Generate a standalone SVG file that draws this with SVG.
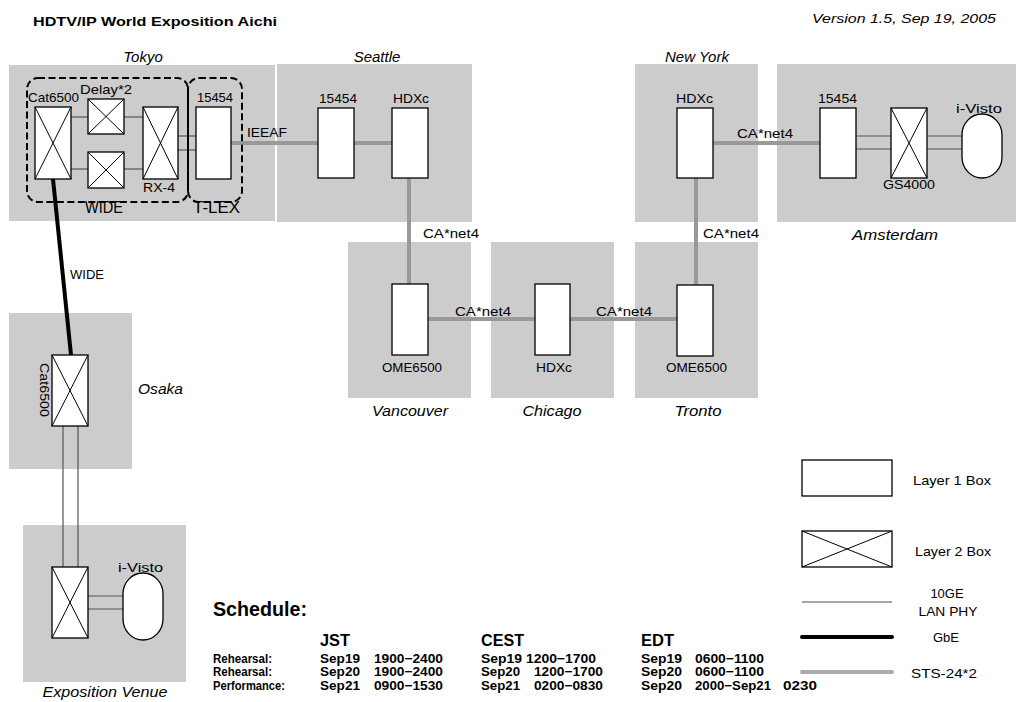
<svg xmlns="http://www.w3.org/2000/svg" width="1024" height="702" viewBox="0 0 1024 702">
<style>
.region{fill:#cccccc}
.b{fill:#fff;stroke:#000;stroke-width:1.3}
.xl{stroke:#000;stroke-width:1}
.dash{fill:none;stroke:#000;stroke-width:2;stroke-dasharray:7 3.5}
.sts{stroke:#999;stroke-width:4;fill:none}
.ge{stroke:#555;stroke-width:1.2;fill:none}
.gbe{stroke:#000;stroke-width:4;fill:none}
text{font-family:"Liberation Sans",Arial,sans-serif;fill:#000}
.lbl{font-size:13px}
.city{font-size:15px;font-style:italic}
.sch{font-size:13px;font-weight:bold}
.hdr{font-size:17px;font-weight:bold}
</style>
<rect width="1024" height="702" fill="#fff"/>
<text x="33" y="26" font-size="13.5" font-weight="bold" textLength="244" lengthAdjust="spacingAndGlyphs">HDTV/IP World Exposition Aichi</text>
<text x="812" y="23" font-size="13" font-style="italic" textLength="184" lengthAdjust="spacingAndGlyphs">Version 1.5, Sep 19, 2005</text>

<g id="regions">
<rect class="region" x="9" y="65" width="266" height="156"/>
<rect class="region" x="277" y="64" width="195" height="158"/>
<rect class="region" x="635" y="64" width="123" height="158"/>
<rect class="region" x="777" y="64" width="239" height="158"/>
<rect class="region" x="348" y="242" width="123" height="156"/>
<rect class="region" x="491" y="242" width="123" height="156"/>
<rect class="region" x="635" y="242" width="123" height="156"/>
<rect class="region" x="9" y="313" width="123" height="156"/>
<rect class="region" x="23" y="525" width="163" height="157"/>
<text class="city" x="143" y="62" text-anchor="middle">Tokyo</text>
<text class="city" x="377" y="62" text-anchor="middle">Seattle</text>
<text class="city" x="697" y="62" text-anchor="middle">New York</text>
<text class="city" x="895" y="240" text-anchor="middle" textLength="86" lengthAdjust="spacingAndGlyphs">Amsterdam</text>
<text class="city" x="410" y="416" text-anchor="middle" textLength="76" lengthAdjust="spacingAndGlyphs">Vancouver</text>
<text class="city" x="552" y="416" text-anchor="middle" textLength="59" lengthAdjust="spacingAndGlyphs">Chicago</text>
<text class="city" x="698" y="416" text-anchor="middle" textLength="47" lengthAdjust="spacingAndGlyphs">Tronto</text>
<text class="city" x="138" y="394" textLength="45" lengthAdjust="spacingAndGlyphs">Osaka</text>
<text class="city" x="105" y="697" text-anchor="middle" textLength="125" lengthAdjust="spacingAndGlyphs">Exposition Venue</text>
</g>

<g id="connectors">
<line class="ge" x1="71" y1="117" x2="88" y2="117"/>
<line class="ge" x1="71" y1="169" x2="88" y2="169"/>
<line class="ge" x1="124" y1="117" x2="143" y2="117"/>
<line class="ge" x1="124" y1="169" x2="143" y2="169"/>
<line class="ge" x1="178" y1="136" x2="196" y2="136"/>
<line class="ge" x1="178" y1="150" x2="196" y2="150"/>
<line class="sts" x1="231" y1="143" x2="318" y2="143"/>
<line class="sts" x1="354" y1="143" x2="392" y2="143"/>
<line class="sts" x1="409" y1="178" x2="409" y2="284"/>
<line class="sts" x1="428" y1="319" x2="535" y2="319"/>
<line class="sts" x1="570" y1="319" x2="677" y2="319"/>
<line class="sts" x1="696" y1="178" x2="696" y2="285"/>
<line class="sts" x1="713" y1="143" x2="820" y2="143"/>
<line class="ge" x1="856" y1="136" x2="891" y2="136"/>
<line class="ge" x1="856" y1="149" x2="891" y2="149"/>
<line class="ge" x1="927" y1="136" x2="962" y2="136"/>
<line class="ge" x1="927" y1="149" x2="962" y2="149"/>
<line class="gbe" x1="53" y1="179" x2="71" y2="355"/>
<line class="ge" x1="63" y1="426" x2="63" y2="567"/>
<line class="ge" x1="78" y1="426" x2="78" y2="567"/>
<line class="ge" x1="88" y1="596" x2="123" y2="596"/>
<line class="ge" x1="88" y1="609" x2="123" y2="609"/>
<text class="lbl" x="247" y="137" textLength="40" lengthAdjust="spacingAndGlyphs">IEEAF</text>
<text class="lbl" x="423" y="238" textLength="56" lengthAdjust="spacingAndGlyphs">CA*net4</text>
<text class="lbl" x="703" y="238" textLength="56" lengthAdjust="spacingAndGlyphs">CA*net4</text>
<text class="lbl" x="737" y="138" textLength="56" lengthAdjust="spacingAndGlyphs">CA*net4</text>
<text class="lbl" x="455" y="316" textLength="56" lengthAdjust="spacingAndGlyphs">CA*net4</text>
<text class="lbl" x="596" y="316" textLength="56" lengthAdjust="spacingAndGlyphs">CA*net4</text>
<text class="lbl" x="70" y="279" textLength="34" lengthAdjust="spacingAndGlyphs">WIDE</text>
</g>

<g id="tokyo-wide">
<rect class="dash" x="27" y="78" width="161" height="124" rx="11"/>
<text x="85" y="213" font-size="16" textLength="38" lengthAdjust="spacingAndGlyphs">WIDE</text>
</g>
<g id="tokyo-tlex">
<rect class="dash" x="188" y="78" width="54" height="124" rx="11"/>
<text x="193" y="213" font-size="16" textLength="47" lengthAdjust="spacingAndGlyphs">T-LEX</text>
</g>
<g id="tokyo-cat6500">
<rect class="b" x="35" y="107" width="36" height="72"/>
<path class="xl" d="M35 107L71 179M71 107L35 179"/>
<text class="lbl" x="28" y="102" textLength="51" lengthAdjust="spacingAndGlyphs">Cat6500</text>
</g>
<g id="tokyo-delay1">
<rect class="b" x="88" y="99" width="36" height="35"/>
<path class="xl" d="M88 99L124 134M124 99L88 134"/>
<text class="lbl" x="80" y="94" textLength="52" lengthAdjust="spacingAndGlyphs">Delay*2</text>
</g>
<g id="tokyo-delay2">
<rect class="b" x="88" y="152" width="36" height="36"/>
<path class="xl" d="M88 152L124 188M124 152L88 188"/>
</g>
<g id="tokyo-rx4">
<rect class="b" x="143" y="107" width="35" height="72"/>
<path class="xl" d="M143 107L178 179M178 107L143 179"/>
<text class="lbl" x="143" y="192" textLength="32" lengthAdjust="spacingAndGlyphs">RX-4</text>
</g>
<g id="tokyo-15454">
<rect class="b" x="196" y="107" width="35" height="72"/>
<text class="lbl" x="197" y="102" textLength="36" lengthAdjust="spacingAndGlyphs">15454</text>
</g>
<g id="seattle-15454">
<rect class="b" x="318" y="108" width="36" height="70"/>
<text class="lbl" x="319" y="103" textLength="38" lengthAdjust="spacingAndGlyphs">15454</text>
</g>
<g id="seattle-hdxc">
<rect class="b" x="392" y="108" width="36" height="70"/>
<text class="lbl" x="393" y="103" textLength="36" lengthAdjust="spacingAndGlyphs">HDXc</text>
</g>
<g id="newyork-hdxc">
<rect class="b" x="677" y="108" width="36" height="70"/>
<text class="lbl" x="676" y="103" textLength="37" lengthAdjust="spacingAndGlyphs">HDXc</text>
</g>
<g id="amsterdam-15454">
<rect class="b" x="820" y="108" width="36" height="70"/>
<text class="lbl" x="818" y="103" textLength="39" lengthAdjust="spacingAndGlyphs">15454</text>
</g>
<g id="amsterdam-gs4000">
<rect class="b" x="891" y="108" width="36" height="70"/>
<path class="xl" d="M891 108L927 178M927 108L891 178"/>
<text class="lbl" x="883" y="189" textLength="52" lengthAdjust="spacingAndGlyphs">GS4000</text>
</g>
<g id="amsterdam-ivisto">
<rect class="b" x="962" y="114" width="40" height="64" rx="20" ry="21"/>
<text class="lbl" x="956" y="113" textLength="46" lengthAdjust="spacingAndGlyphs">i-Visto</text>
</g>
<g id="vancouver-ome6500">
<rect class="b" x="392" y="284" width="36" height="71"/>
<text class="lbl" x="382" y="372" textLength="60" lengthAdjust="spacingAndGlyphs">OME6500</text>
</g>
<g id="chicago-hdxc">
<rect class="b" x="535" y="284" width="35" height="71"/>
<text class="lbl" x="536" y="372" textLength="36" lengthAdjust="spacingAndGlyphs">HDXc</text>
</g>
<g id="tronto-ome6500">
<rect class="b" x="677" y="285" width="36" height="71"/>
<text class="lbl" x="666" y="372" textLength="61" lengthAdjust="spacingAndGlyphs">OME6500</text>
</g>
<g id="osaka-cat6500">
<rect class="b" x="52" y="355" width="36" height="71"/>
<path class="xl" d="M52 355L88 426M88 355L52 426"/>
<text class="lbl" transform="translate(40,363) rotate(90)" textLength="54" lengthAdjust="spacingAndGlyphs">Cat6500</text>
</g>
<g id="expo-switch">
<rect class="b" x="52" y="567" width="36" height="71"/>
<path class="xl" d="M52 567L88 638M88 567L52 638"/>
</g>
<g id="expo-ivisto">
<rect class="b" x="123" y="573" width="40" height="67" rx="20" ry="21"/>
<text class="lbl" x="118" y="572" textLength="45" lengthAdjust="spacingAndGlyphs">i-Visto</text>
</g>

<g id="legend">
<rect class="b" x="802" y="460" width="90" height="36"/>
<text class="lbl" x="913" y="485" textLength="78" lengthAdjust="spacingAndGlyphs">Layer 1 Box</text>
<rect class="b" x="802" y="531" width="90" height="36"/>
<path class="xl" d="M802 531L892 567M892 531L802 567"/>
<text class="lbl" x="915" y="556" textLength="76" lengthAdjust="spacingAndGlyphs">Layer 2 Box</text>
<line x1="802" y1="602" x2="892" y2="602" stroke="#888" stroke-width="1.5"/>
<text class="lbl" x="947" y="598" text-anchor="middle">10GE</text>
<text class="lbl" x="948" y="616" text-anchor="middle" textLength="59" lengthAdjust="spacingAndGlyphs">LAN PHY</text>
<line x1="802" y1="637" x2="892" y2="637" stroke="#000" stroke-width="4" stroke-linecap="round"/>
<text class="lbl" x="946" y="642" text-anchor="middle">GbE</text>
<line x1="802" y1="672" x2="892" y2="672" stroke="#aaa" stroke-width="4" stroke-linecap="round"/>
<text class="lbl" x="911" y="678" textLength="66" lengthAdjust="spacingAndGlyphs">STS-24*2</text>
</g>

<g id="schedule">
<text x="213" y="616" font-size="20" font-weight="bold" textLength="94" lengthAdjust="spacingAndGlyphs">Schedule:</text>
<text class="hdr" x="320" y="646" textLength="30" lengthAdjust="spacingAndGlyphs">JST</text>
<text class="hdr" x="481" y="646" textLength="43" lengthAdjust="spacingAndGlyphs">CEST</text>
<text class="hdr" x="641" y="646" textLength="33" lengthAdjust="spacingAndGlyphs">EDT</text>
<text class="sch" x="213" y="663" textLength="59" lengthAdjust="spacingAndGlyphs">Rehearsal:</text>
<text class="sch" x="213" y="676" textLength="59" lengthAdjust="spacingAndGlyphs">Rehearsal:</text>
<text class="sch" x="213" y="690" textLength="72" lengthAdjust="spacingAndGlyphs">Performance:</text>
<text class="sch" x="320" y="663" textLength="40" lengthAdjust="spacingAndGlyphs">Sep19</text>
<text class="sch" x="320" y="676" textLength="40" lengthAdjust="spacingAndGlyphs">Sep20</text>
<text class="sch" x="320" y="690" textLength="40" lengthAdjust="spacingAndGlyphs">Sep21</text>
<text class="sch" x="374" y="663" textLength="69" lengthAdjust="spacingAndGlyphs">1900−2400</text>
<text class="sch" x="374" y="676" textLength="69" lengthAdjust="spacingAndGlyphs">1900−2400</text>
<text class="sch" x="374" y="690" textLength="69" lengthAdjust="spacingAndGlyphs">0900−1530</text>
<text class="sch" x="481" y="663" textLength="115" lengthAdjust="spacingAndGlyphs">Sep19 1200−1700</text>
<text class="sch" x="481" y="676" textLength="39" lengthAdjust="spacingAndGlyphs">Sep20</text>
<text class="sch" x="481" y="690" textLength="39" lengthAdjust="spacingAndGlyphs">Sep21</text>
<text class="sch" x="534" y="676" textLength="69" lengthAdjust="spacingAndGlyphs">1200−1700</text>
<text class="sch" x="534" y="690" textLength="69" lengthAdjust="spacingAndGlyphs">0200−0830</text>
<text class="sch" x="641" y="663" textLength="41" lengthAdjust="spacingAndGlyphs">Sep19</text>
<text class="sch" x="641" y="676" textLength="41" lengthAdjust="spacingAndGlyphs">Sep20</text>
<text class="sch" x="641" y="690" textLength="41" lengthAdjust="spacingAndGlyphs">Sep20</text>
<text class="sch" x="695" y="663" textLength="69" lengthAdjust="spacingAndGlyphs">0600−1100</text>
<text class="sch" x="695" y="676" textLength="69" lengthAdjust="spacingAndGlyphs">0600−1100</text>
<text class="sch" x="695" y="690" textLength="76" lengthAdjust="spacingAndGlyphs">2000−Sep21</text>
<text class="sch" x="783" y="690" textLength="34" lengthAdjust="spacingAndGlyphs">0230</text>
</g>
</svg>
